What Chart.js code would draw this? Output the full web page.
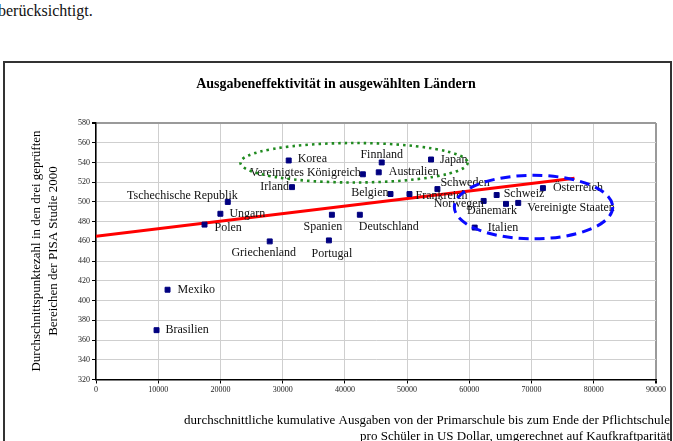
<!DOCTYPE html>
<html lang="de">
<head>
  <meta charset="UTF-8">
  <title>Ausgabeneffektivität in ausgewählten Ländern</title>
  <script src="https://cdn.jsdelivr.net/npm/chart.js"></script>
  <style>
    html, body { margin: 0; padding: 0; background: #fff; overflow: hidden; }
    body { width: 673px; height: 441px; position: relative; font-family: 'Liberation Serif', 'Times New Roman', serif; }
    #prose { position: absolute; left: -2px; top: 2px; font-size: 16px; color: #111; }
    #wrap { position: absolute; left: 0; top: 0; width: 673px; height: 441px; }
    #frame { position: absolute; left: 3px; top: 61px; width: 665px; height: 400px; border: 2px solid #333; pointer-events: none; }
  </style>
</head>
<body>
  <div id="prose">berücksichtigt.</div>
  <div id="wrap"><canvas id="effChart" width="673" height="441"></canvas></div>
  <div id="frame"></div>
  <script>
    // Länder, Ausgaben (US$ KKP) und PISA-Durchschnittspunkte
    const countries = ['Tschechische Republik', 'Ungarn', 'Polen', 'Griechenland', 'Mexiko', 'Brasilien',
      'Korea', 'Vereinigtes Königreich', 'Finnland', 'Australien', 'Japan', 'Irland', 'Belgien', 'Frankreich',
      'Schweden', 'Spanien', 'Deutschland', 'Portugal', 'Italien', 'Norwegen', 'Schweiz', 'Dänemark',
      'Vereinigte Staaten', 'Österreich'];
    const spending = [21180, 19990, 17440, 27920, 11500, 9730,
      30970, 42890, 45920, 45440, 53850, 31500, 47330, 50380,
      54870, 37910, 42400, 37430, 60860, 62300, 64390, 65890,
      67860, 71830];
    const scores = [500, 488, 477, 460, 411, 370,
      542, 528, 540, 530, 543, 515, 508, 508,
      513, 487, 487, 461, 474, 501, 507, 498,
      499, 514];
    const trendX = [0, 76900];
    const trendY = [465.3, 524];
    const xTicks = [0, 10000, 20000, 30000, 40000, 50000, 60000, 70000, 80000, 90000];
    const yTicks = [320, 340, 360, 380, 400, 420, 440, 460, 480, 500, 520, 540, 560, 580];
    // Ellipsen um Ländergruppen: Mittelpunkt und Radien in Achsenwerten
    const groupCenters = [[41470, 539.7], [70320, 494.8]];
    const groupRadii = [[18260, 20], [12730, 32.2]];

    // label placement: [dx, dy, align] in px relative to the point
    const labelPos = [[10, -6, 'right'], [9, 0, 'left'], [10, 3, 'left'], [-6, 11, 'center'], [10, 0, 'left'], [9, 0, 'left'],
      [9, -2, 'left'], [-2, -1, 'right'], [0, -8, 'center'], [10, 0, 'left'], [9, 0, 'left'], [-3, 0, 'right'], [-2, -1, 'right'], [6, 2, 'left'],
      [3, -6, 'left'], [-9, 12, 'center'], [-1, 12, 'left'], [3, 13, 'center'], [13, 0, 'left'], [0, 3, 'right'], [7, -1, 'left'], [-14, 7, 'center'],
      [9, 5, 'left'], [10, 0, 'left']];
    const groupStyles = [
      { color: '#1f8a1f', width: 2.6, dash: [2.5, 4] },
      { color: '#0a0aff', width: 3, dash: [10, 6] }
    ];

    const serif = "'Liberation Serif', 'Times New Roman', serif";

    const textPlugin = {
      id: 'texts',
      afterDatasetsDraw(chart) {
        const { ctx, scales: { x, y } } = chart;
        const meta = chart.getDatasetMeta(0);
        ctx.save();
        ctx.fillStyle = '#111';
        ctx.font = '12px ' + serif;
        ctx.textBaseline = 'middle';
        meta.data.forEach((pt, i) => {
          const [dx, dy, align] = labelPos[i];
          ctx.textAlign = align;
          ctx.fillText(countries[i], pt.x + dx, pt.y + dy);
        });
        // group ellipses
        groupCenters.forEach((c, i) => {
          const cx = x.getPixelForValue(c[0]);
          const cy = y.getPixelForValue(c[1]);
          const rx = x.getPixelForValue(c[0] + groupRadii[i][0]) - cx;
          const ry = cy - y.getPixelForValue(c[1] + groupRadii[i][1]);
          const st = groupStyles[i];
          ctx.beginPath();
          ctx.setLineDash(st.dash);
          ctx.lineWidth = st.width;
          ctx.strokeStyle = st.color;
          ctx.ellipse(cx, cy, rx, ry, 0, 0, Math.PI * 2);
          ctx.stroke();
        });
        ctx.setLineDash([]);
        // title
        ctx.fillStyle = '#000';
        ctx.textAlign = 'center';
        ctx.font = 'bold 14px ' + serif;
        ctx.fillText('Ausgabeneffektivität in ausgewählten Ländern', 336, 84);
        // x axis title (right edge hidden by frame)
        ctx.font = '13px ' + serif;
        ctx.textAlign = 'right';
        ctx.fillText('durchschnittliche kumulative Ausgaben von der Primarschule bis zum Ende der Pflichtschule', 670, 421);
        ctx.fillText('pro Schüler in US Dollar, umgerechnet auf Kaufkraftparität', 670, 437);
        // y axis title
        ctx.save();
        ctx.translate(36.5, 251);
        ctx.rotate(-Math.PI / 2);
        ctx.textAlign = 'center';
        ctx.fillText('Durchschnittspunktezahl in den drei geprüften', 0, 0);
        ctx.fillText('Bereichen der PISA Studie 2000', 0, 17.5);
        ctx.restore();
        ctx.restore();
      }
    };

    new Chart(document.getElementById('effChart'), {
      type: 'scatter',
      data: {
        datasets: [
          {
            label: 'Länder',
            data: spending.map((v, i) => ({ x: v, y: scores[i] })),
            pointStyle: 'rect',
            pointRadius: 3.5,
            pointBackgroundColor: '#000080',
            pointBorderColor: '#000080',
            pointBorderWidth: 1
          },
          {
            label: 'Trend',
            data: trendX.map((v, i) => ({ x: v, y: trendY[i] })),
            showLine: true,
            borderColor: '#ff0000',
            borderWidth: 3,
            pointRadius: 0
          }
        ]
      },
      options: {
        responsive: false,
        animation: false,
        events: [],
        layout: { padding: { left: 0, top: 123, right: 17, bottom: 0 } },
        plugins: { legend: { display: false }, tooltip: { enabled: false } },
        scales: {
          x: {
            type: 'linear', min: 0, max: 90000,
            afterFit(s) { s.height = 61.5; },
            afterBuildTicks(s) { s.ticks = xTicks.map(v => ({ value: v })); },
            ticks: { font: { family: serif, size: 8 }, color: '#222', padding: 2, maxRotation: 0, callback: v => String(v) },
            grid: {
              color: c => c.tick && c.tick.value === 90000 ? '#9a9a9a' : '#cfcfcf',
              lineWidth: c => c.tick && c.tick.value === 90000 ? 2 : 1,
              tickColor: '#000', tickLength: 4
            },
            border: { color: '#000', width: 1.5 }
          },
          y: {
            type: 'linear', min: 320, max: 580,
            afterFit(s) { s.width = 96; },
            afterBuildTicks(s) { s.ticks = yTicks.map(v => ({ value: v })); },
            ticks: { font: { family: serif, size: 8 }, color: '#222', padding: 2, callback: v => String(v) },
            grid: {
              color: c => c.tick && c.tick.value === 580 ? '#9a9a9a' : '#cfcfcf',
              lineWidth: c => c.tick && c.tick.value === 580 ? 2 : 1,
              tickColor: '#000', tickLength: 4
            },
            border: { color: '#000', width: 1.5 }
          }
        }
      },
      plugins: [textPlugin]
    });
  </script>
</body>
</html>
